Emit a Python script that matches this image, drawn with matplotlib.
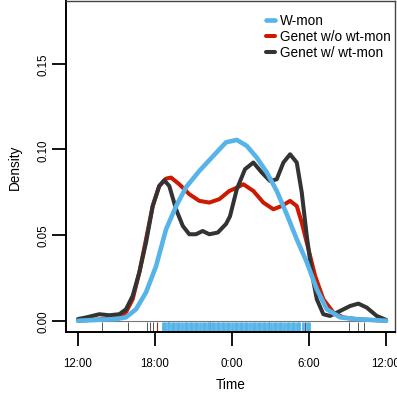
import matplotlib
matplotlib.use("Agg")
import matplotlib.pyplot as plt

plt.rcParams['font.family'] = ['Liberation Sans', 'DejaVu Sans']

# density curves (time in hours, 24 = midnight)
wmon_t = [12.0, 14.96, 15.74, 16.52, 17.30, 18.08, 18.86, 19.64, 20.42, 21.43, 22.52,
          23.53, 24.37, 25.15, 25.92, 26.70, 27.48, 28.26, 29.04, 29.82, 30.60,
          31.38, 32.42, 33.72, 36.0]
wmon_d = [0.0, 0.001, 0.002, 0.0067, 0.0166, 0.0318, 0.0534, 0.0669, 0.078, 0.0873, 0.0961,
          0.1042, 0.1056, 0.1021, 0.0953, 0.0867, 0.0758, 0.0622, 0.0476, 0.0342, 0.0184,
          0.0067, 0.002, 0.0009, 0.0]

wo_t = [12.0, 15.22, 15.74, 16.26, 16.78, 17.30, 17.82, 18.33, 18.86, 19.25, 19.89,
        20.67, 21.45, 22.23, 23.01, 23.79, 24.31, 24.88, 25.66, 26.44, 27.22, 27.87,
        28.52, 29.04, 29.43, 29.95, 30.47, 31.11, 31.89, 32.67, 33.72, 36.0]
wo_d = [0.0, 0.0015, 0.005, 0.0126, 0.0283, 0.0476, 0.067, 0.0787, 0.083, 0.0836, 0.0797,
        0.0739, 0.070, 0.069, 0.071, 0.0758, 0.0775, 0.0797, 0.0758, 0.069, 0.0651, 0.067,
        0.070, 0.067, 0.0573, 0.0418, 0.0262, 0.0126, 0.0048, 0.0019, 0.0009, 0.0]

w_t = [12.0, 12.62, 13.66, 14.44, 15.22, 15.74, 16.26, 16.78, 17.30, 17.82, 18.33, 18.72,
       19.11, 19.64, 20.16, 20.67, 21.19, 21.71, 22.23, 22.89, 23.53, 23.84, 24.37,
       25.01, 25.66, 26.31, 26.96, 27.48, 28.00, 28.52, 29.04, 29.43, 29.82, 30.21,
       30.60, 31.11, 31.63, 32.42, 33.19, 33.84, 34.49, 35.27, 36.0]
w_d = [0.001, 0.0019, 0.0038, 0.0032, 0.0038, 0.0067, 0.0145, 0.0283, 0.0457, 0.067, 0.0787, 0.082,
       0.0787, 0.0651, 0.0554, 0.0505, 0.0505, 0.0524, 0.0505, 0.0515, 0.0565, 0.061, 0.0768,
       0.0885, 0.0924, 0.0866, 0.0816, 0.0826, 0.0924, 0.0972, 0.0924, 0.0749, 0.0495, 0.0281,
       0.0126, 0.0038, 0.0028, 0.0057, 0.0086, 0.010, 0.0077, 0.0028, 0.0005]

# observation times (rug)
wmon_rug = [18.62, 18.8, 18.98,
            19.12, 19.3, 19.5, 19.7, 19.9, 20.1, 20.3,
            20.52, 20.7, 20.9, 21.1, 21.3, 21.5, 21.7, 21.9, 22.1, 22.18,
            22.4, 22.6, 22.8, 23.0, 23.2, 23.4, 23.6, 23.8, 24.0, 24.2, 24.4, 24.6,
            24.8, 25.0, 25.2, 25.4, 25.6, 25.8, 26.0, 26.2, 26.4, 26.6, 26.78,
            27.07, 27.25, 27.45, 27.65, 27.85, 28.05, 28.25, 28.45, 28.65, 28.85,
            29.05, 29.25, 29.5, 29.8, 29.97]
w_rug = [13.85, 15.92, 17.4, 17.62, 17.85, 19.05, 22.29, 26.9, 29.65, 33.1, 33.8, 34.3]
wo_rug = [18.15]

xticks = [12, 18, 24, 30, 36]
xlabels = ["12:00", "18:00", "0:00", "6:00", "12:00"]
yticks = [0.0, 0.05, 0.10, 0.15]
ylabels = ["0.00", "0.05", "0.10", "0.15"]

c_blue = "#56B4E9"
c_red = "#CC1A00"
c_black = "#333333"

fig = plt.figure(figsize=(3.97, 4.02), dpi=100)
ax = fig.add_axes([0.1662, 0.1724, 0.829, 0.8234])

line_kw = dict(solid_joinstyle="round", solid_capstyle="round")
ax.hlines(0, 12, 36.1, color="#777777", lw=0.8, zorder=1)
ax.plot(wo_t, wo_d, color=c_red, lw=2.9, label="Genet w/o wt-mon", zorder=3, **line_kw)
ax.plot(w_t, w_d, color=c_black, lw=2.9, label="Genet w/ wt-mon", zorder=4, **line_kw)
ax.plot(wmon_t, wmon_d, color=c_blue, lw=3.3, label="W-mon", zorder=5, **line_kw)

tr = ax.get_xaxis_transform()
ax.vlines(w_rug, 0, 0.03, transform=tr, color="#555555", lw=0.7, zorder=2)
ax.vlines(wo_rug, 0, 0.03, transform=tr, color=c_red, lw=0.8, zorder=2)
ax.vlines(wmon_rug, 0, 0.03, transform=tr, color=c_blue, lw=2.0, zorder=2)

ax.set_xlim(11.065, 36.70)
ax.set_ylim(-0.0064, 0.1869)

ax.set_xticks(xticks)
ax.set_xticklabels(xlabels)
ax.set_yticks(yticks)
ax.set_yticklabels(ylabels, rotation=90, va="center")
ax.tick_params(axis="both", direction="out", length=10, width=1.3, labelsize=8.3)
ax.tick_params(axis="x", pad=8)
ax.tick_params(axis="y", pad=2)

for s in ["left", "bottom"]:
    ax.spines[s].set_linewidth(1.4)
for s in ["top", "right"]:
    ax.spines[s].set_linewidth(1.0)
    ax.spines[s].set_color("#444444")

ax.set_xlabel("Time", fontsize=9.8)
ax.xaxis.label.set_va("center")
ax.xaxis.set_label_coords(0.5, -0.158)
ax.set_ylabel("Density", fontsize=9.8)
ax.yaxis.label.set_va("center")
ax.yaxis.set_label_coords(-0.155, 0.5)

h, l = ax.get_legend_handles_labels()
order = [2, 0, 1]
ax.legend([h[i] for i in order], [l[i] for i in order], loc="upper left",
          bbox_to_anchor=(0.607, 0.962), frameon=False, fontsize=9.8,
          handlelength=0.7, handletextpad=0.35, labelspacing=0.15, borderpad=0,
          borderaxespad=0)

fig.savefig("out.png", dpi=100)
